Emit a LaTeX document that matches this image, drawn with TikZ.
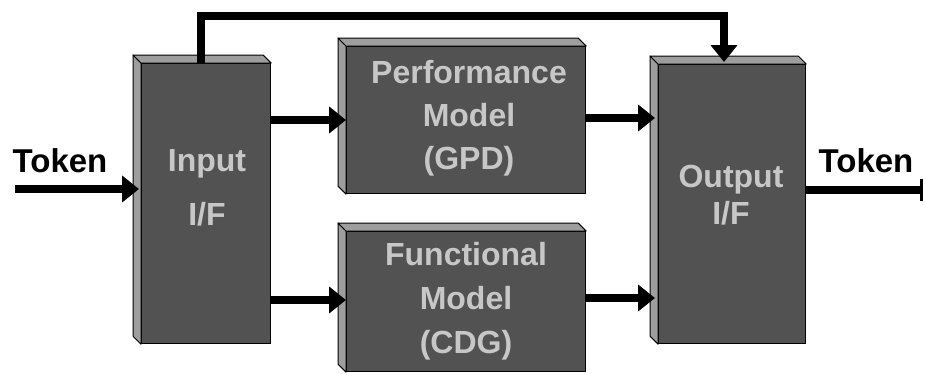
\documentclass[tikz,border=0pt]{standalone}
\usepackage{fontspec}
\setmainfont{Liberation Sans}
\usetikzlibrary{arrows.meta,calc}

\tikzset{
  frontface/.style={fill=black!68, draw=black, line width=1.2pt, inner sep=0pt, anchor=north west},
  bevelface/.style={fill=black!38, draw=black, line width=1pt, line join=round},
  boxtext/.style={text=black!22, font=\bfseries\fontsize{32}{42}\selectfont, align=center, inner sep=0pt},
  tokentext/.style={font=\bfseries\fontsize{33}{38}\selectfont, inner sep=0pt, anchor=base},
  flow/.style={line width=8pt, line join=miter, -{Triangle[width=26pt,length=17pt]}},
}

% left and top faces of an extruded block, depth 8 towards the upper left
\newcommand\blockfaces[1]{%
  \path[bevelface] ([shift={(-8,-8)}]#1.north west) -- (#1.north west) -- (#1.south west)
        -- ([shift={(-8,-8)}]#1.south west) -- cycle;
  \path[bevelface] ([shift={(-8,-8)}]#1.north west) -- ([shift={(-8,-8)}]#1.north east)
        -- (#1.north east) -- (#1.north west) -- cycle;
}

\begin{document}
\begin{tikzpicture}[x=1pt, y=-1pt]
  \useasboundingbox (0,0) rectangle (925,373);

  % blocks
  \node[frontface, minimum width=129pt, minimum height=280pt] (inp)  at (141,63) {};
  \node[frontface, minimum width=239pt, minimum height=147pt] (perf) at (346,46) {};
  \node[frontface, minimum width=239pt, minimum height=140pt] (func) at (346,231) {};
  \node[frontface, minimum width=147pt, minimum height=279pt] (outp) at (658,64) {};
  \blockfaces{inp}
  \blockfaces{perf}
  \blockfaces{func}
  \blockfaces{outp}

  % block labels
  \node[boxtext] (inpT)  at (207,188) {Input\\[12pt]I/F};
  \node[boxtext] (perfT) at (469,118) {Performance\\[1pt]Model\\[1pt](GPD)};
  \node[boxtext] (funcT) at (466,301) {Functional\\[2pt]Model\\[2pt](CDG)};
  \node[boxtext] (outpT) at (731,195) {Output\\[-5pt]I/F};

  % token labels
  \node[tokentext] (tokIn)  at (60,172)  {Token};
  \node[tokentext] (tokOut) at (866,172) {Token};

  % row levels of the connectors
  \coordinate (rowT)  at (0,189);
  \coordinate (rowA)  at (0,120);
  \coordinate (rowA2) at (0,118);
  \coordinate (rowB)  at (0,300);
  \coordinate (rowB2) at (0,298);
  \coordinate (tin)   at (15,189);
  \coordinate (tout)  at (923,190);
  \coordinate (fbL)   at (201,16);
  \coordinate (fbR)   at (724,16);

  % connectors
  \draw[flow] (tin) -- ([xshift=-2pt]inp.west |- rowT);
  \draw[flow] (inp.east |- rowA) -- (perf.west |- rowA);
  \draw[flow] (inp.east |- rowB) -- (func.west |- rowB);
  \draw[flow] (perf.east |- rowA2) -- ([xshift=-3pt]outp.west |- rowA2);
  \draw[flow] (func.east |- rowB2) -- ([xshift=-3pt]outp.west |- rowB2);
  \draw[flow] (inp.north -| fbL) -- (fbL) -- (fbR) -- ([yshift=2pt]outp.north -| fbR);
  \draw[line width=8pt, -{Bar[width=22pt,line width=3pt]}] (outp.east |- tout) -- (tout);
\end{tikzpicture}
\end{document}
